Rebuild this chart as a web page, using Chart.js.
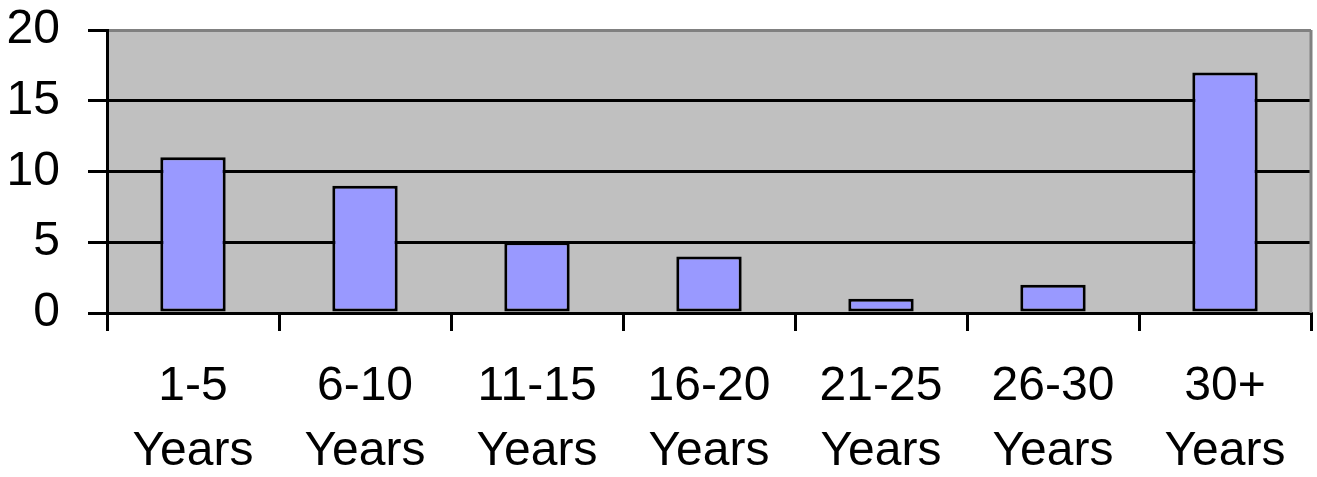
<!DOCTYPE html>
<html>
<head>
<meta charset="utf-8">
<script src="https://cdn.jsdelivr.net/npm/chart.js@4/dist/chart.umd.min.js"></script>
<style>
  body { margin: 0; background: #fff; }
  canvas { display: block; }
</style>
</head>
<body>
<canvas id="chart" width="1317" height="477"></canvas>
<script>
const categories = [
  ['1-5', 'Years'],
  ['6-10', 'Years'],
  ['11-15', 'Years'],
  ['16-20', 'Years'],
  ['21-25', 'Years'],
  ['26-30', 'Years'],
  ['30+', 'Years']
];
const counts = [11, 9, 5, 4, 1, 2, 17];
const yTicks = [0, 5, 10, 15, 20];

// gray plot background plus the gray frame on the right
const plotFrame = {
  id: 'plotFrame',
  beforeDraw(chart) {
    const { ctx, chartArea: a } = chart;
    ctx.save();
    ctx.fillStyle = '#c0c0c0';
    ctx.fillRect(a.left, a.top, a.right - a.left, a.bottom - a.top);
    ctx.restore();
  },
  afterDatasetsDraw(chart) {
    const { ctx, chartArea: a } = chart;
    ctx.save();
    ctx.strokeStyle = '#808080';
    ctx.lineWidth = 3;
    ctx.beginPath();
    ctx.moveTo(a.right, a.top);
    ctx.lineTo(a.right, a.bottom);
    ctx.stroke();
    ctx.restore();
  }
};

const font = { family: '"Liberation Sans", Arial, sans-serif', size: 48, lineHeight: 1.36 };

new Chart(document.getElementById('chart'), {
  type: 'bar',
  data: {
    labels: categories,
    datasets: [{
      data: counts,
      backgroundColor: '#9999ff',
      borderColor: '#000',
      borderWidth: 3,
      borderSkipped: false,
      barPercentage: 0.38,
      categoryPercentage: 1
    }]
  },
  options: {
    responsive: false,
    animation: false,
    layout: { padding: { top: 30, right: 6, left: 0, bottom: 0 } },
    plugins: { legend: { display: false }, tooltip: { enabled: false } },
    scales: {
      x: {
        offset: true,
        afterFit: (s) => { s.height = 164; s.paddingLeft = 0; s.paddingRight = 0; },
        grid: {
          offset: true,
          drawOnChartArea: false,
          color: '#000',
          lineWidth: 3,
          tickLength: 18
        },
        border: { color: '#000', width: 3 },
        ticks: { color: '#000', font: font, padding: 23, maxRotation: 0, autoSkip: false }
      },
      y: {
        min: 0,
        max: 20,
        afterFit: (s) => { s.width = 107; s.paddingTop = 0; s.paddingBottom = 0; },
        afterBuildTicks: (s) => { s.ticks = yTicks.map(v => ({ value: v })); },
        grid: {
          color: (c) => c.tick && c.tick.value === 20 ? '#808080' : '#000',
          tickColor: '#000',
          lineWidth: 3,
          tickLength: 19
        },
        border: { color: '#000', width: 3 },
        ticks: { color: '#000', font: font, padding: 28, autoSkip: false }
      }
    }
  },
  plugins: [plotFrame]
});
</script>
</body>
</html>
